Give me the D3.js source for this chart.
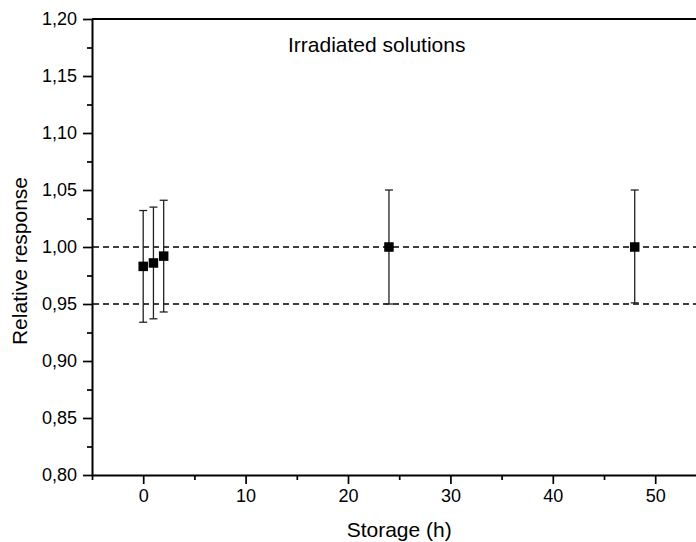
<!DOCTYPE html>
<meta charset='utf-8'>
<title>Irradiated solutions - relative response</title>
<style>
html, body {
  margin: 0;
  padding: 0;
  background: #ffffff;
}
text {
  font-family: 'Liberation Sans', Arial, sans-serif;
  fill: #000;
}
</style>
<script src='https://d3js.org/d3.v7.min.js'></script>
<body>
<svg id='chart' width='696' height='542'></svg>
<script>
// Data
var storageHours = [0, 1, 2, 24, 48];
var response     = [0.983, 0.986, 0.992, 1.000, 1.000];
var errLow       = [0.934, 0.937, 0.943, 0.950, 0.951];
var errHigh      = [1.032, 1.035, 1.041, 1.050, 1.050];
var refLines     = [1.00, 0.95];

var xTicks = [0, 10, 20, 30, 40, 50];
var xMinor = [-5, 5, 15, 25, 35, 45, 55];
var yTicks = [0.80, 0.85, 0.90, 0.95, 1.00, 1.05, 1.10, 1.15, 1.20];
var yMinor = [0.825, 0.875, 0.925, 0.975, 1.025, 1.075, 1.125, 1.175];

var W = 696, H = 542;
var plotLeft = 92, plotTop = 19, plotBottom = 475;

var svg = d3.select('#chart');

// x axis runs past the right edge of the picture (frame is cropped)
var x = d3.scaleLinear().domain([-5, 55]).range([plotLeft, plotLeft + 60 * 10.24]);
var y = d3.scaleLinear().domain([0.80, 1.20]).range([plotBottom, plotTop]);

var comma = d3.formatLocale({decimal: ',', thousands: '.', grouping: [3], currency: ['', '']});
var fmt = comma.format('.2f');

// minor ticks first so the major ones sit on top
svg.append('g')
  .attr('transform', 'translate(0,' + plotBottom + ')')
  .call(d3.axisBottom(x).tickValues(xMinor).tickSize(5).tickSizeOuter(0).tickFormat(''))
  .call(g => g.select('.domain').remove())
  .selectAll('line').attr('stroke-width', 1.7);

svg.append('g')
  .attr('transform', 'translate(' + plotLeft + ',0)')
  .call(d3.axisLeft(y).tickValues(yMinor).tickSize(5).tickSizeOuter(0).tickFormat(''))
  .call(g => g.select('.domain').remove())
  .selectAll('line').attr('stroke-width', 1.7);

// major x axis
var gx = svg.append('g')
  .attr('transform', 'translate(0,' + plotBottom + ')')
  .call(d3.axisBottom(x).tickValues(xTicks).tickSize(9).tickSizeOuter(0).tickPadding(5));
gx.select('.domain').attr('stroke-width', 2);
gx.selectAll('line').attr('stroke-width', 1.7);
gx.selectAll('text').style('font-size', '18px');

// major y axis
var gy = svg.append('g')
  .attr('transform', 'translate(' + plotLeft + ',0)')
  .call(d3.axisLeft(y).tickValues(yTicks).tickSize(9).tickSizeOuter(0).tickPadding(6).tickFormat(fmt));
gy.select('.domain').attr('stroke-width', 2);
gy.selectAll('line').attr('stroke-width', 1.7);
gy.selectAll('text').style('font-size', '18px');

// top frame line
svg.append('line')
  .attr('x1', plotLeft).attr('x2', W)
  .attr('y1', plotTop).attr('y2', plotTop)
  .attr('stroke', '#000')
  .attr('stroke-width', 2);

// dashed reference lines
svg.selectAll('.ref')
  .data(refLines)
  .enter()
  .append('line')
  .attr('class', 'ref')
  .attr('x1', plotLeft + 1).attr('x2', W)
  .attr('y1', d => y(d)).attr('y2', d => y(d))
  .attr('stroke', '#000')
  .attr('stroke-width', 1.5)
  .attr('stroke-dasharray', '6,4');

var pts = storageHours.map((h, i) => ({h: h, v: response[i], lo: errLow[i], hi: errHigh[i]}));

// error bars
var eb = svg.selectAll('.err')
  .data(pts)
  .enter()
  .append('g')
  .attr('class', 'err')
  .attr('stroke', '#222')
  .attr('stroke-width', 1.3);

eb.append('line')
  .attr('x1', d => x(d.h)).attr('x2', d => x(d.h))
  .attr('y1', d => y(d.lo)).attr('y2', d => y(d.hi));

eb.append('line')
  .attr('x1', d => x(d.h) - 4).attr('x2', d => x(d.h) + 4)
  .attr('y1', d => y(d.hi)).attr('y2', d => y(d.hi));

eb.append('line')
  .attr('x1', d => x(d.h) - 4).attr('x2', d => x(d.h) + 4)
  .attr('y1', d => y(d.lo)).attr('y2', d => y(d.lo));

// square markers
var sq = 9.5;
svg.selectAll('.pt')
  .data(pts)
  .enter()
  .append('rect')
  .attr('class', 'pt')
  .attr('x', d => x(d.h) - sq / 2)
  .attr('y', d => y(d.v) - sq / 2)
  .attr('width', sq)
  .attr('height', sq)
  .attr('fill', '#000');

// labels
svg.append('text')
  .attr('x', 288)
  .attr('y', 52)
  .attr('font-size', 21)
  .text('Irradiated solutions');

svg.append('text')
  .attr('x', x(25))
  .attr('y', 537)
  .attr('text-anchor', 'middle')
  .attr('font-size', 21)
  .text('Storage (h)');

svg.append('text')
  .attr('transform', 'translate(27,261)rotate(-90)')
  .attr('text-anchor', 'middle')
  .attr('font-size', 21)
  .text('Relative response');
</script>
</body>
